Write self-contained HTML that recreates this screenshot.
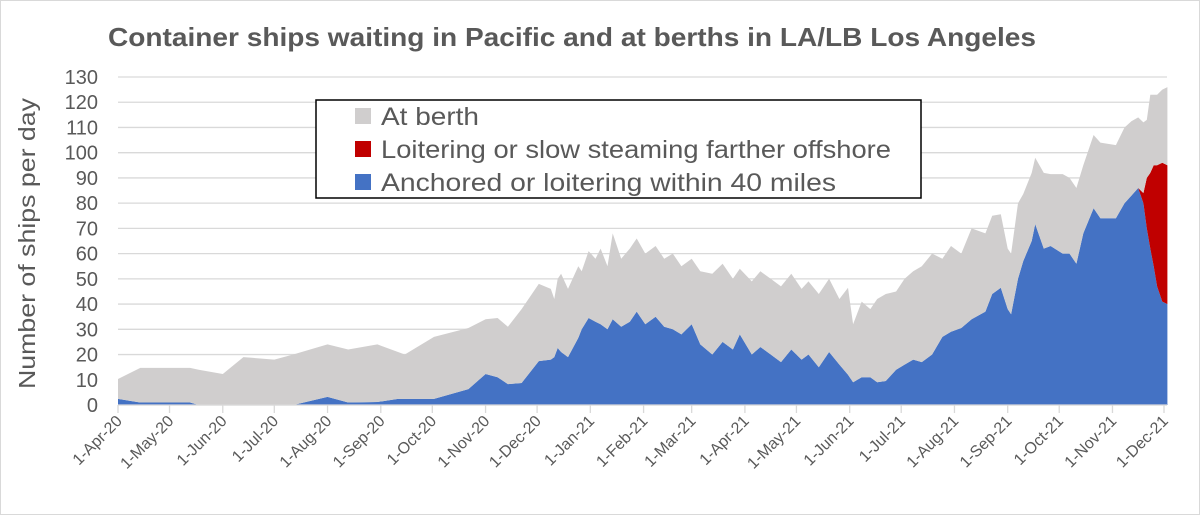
<!DOCTYPE html>
<html><head><meta charset="utf-8"><style>
body{margin:0;background:#fff;}
#wrap{position:relative;width:1200px;height:515px;overflow:hidden;background:#fff;box-sizing:border-box;border:1px solid #d9d9d9;}
text{font-family:"Liberation Sans",sans-serif;}
</style></head><body>
<div id="wrap">
<svg id="chart" width="1200" height="515"></svg>
</div>
<script>
const monthLabels=["1-Apr-20","1-May-20","1-Jun-20","1-Jul-20","1-Aug-20","1-Sep-20","1-Oct-20","1-Nov-20","1-Dec-20","1-Jan-21","1-Feb-21","1-Mar-21","1-Apr-21","1-May-21","1-Jun-21","1-Jul-21","1-Aug-21","1-Sep-21","1-Oct-21","1-Nov-21","1-Dec-21"];
const monthDays=[0,30,61,91,122,153,183,214,244,275,306,334,365,395,426,456,487,518,548,579,609];
const yTicks=[0,10,20,30,40,50,60,70,80,90,100,110,120,130];
const days=[0,13,42,47,61,73,91,102,122,134,151,163,167,184,204,214,221,227,235,245,252,254,256,258,262,268,270,274,278,281,285,288,293,298,302,307,313,318,323,328,334,339,346,352,358,362,369,374,380,386,392,398,402,408,414,420,425,428,433,438,442,447,453,458,463,468,474,480,485,491,497,505,509,514,518,520,524,527,532,534,539,543,550,554,558,562,568,572,581,586,590,594,597,599,601,603,605,608,611];
const totalWaiting=[10.3,14.7,14.7,14,12.3,19,18,20,24,22,24,21,20,27,30.5,34,34.5,31,38,48,46,42,50,52,46,55,53,61,58,62,55,68,58,62,66,60,63,58,60,55,58,53,52,56,50,54,49,53,50,47,52,46,49,44,50,42,46.5,32,41,38,42,44,45,50,53,55,60,58,63,60,70,68,75,75.6,62,60,80,83.6,92,98,92,91.5,91.5,90,86,95,107,104,103,110,112.5,114,112,113,123,123,123,125,126];
const anchored=[2.4,1,1,0,0,0,0,0,3.2,1,1.2,2.4,2.4,2.4,6.3,12.3,11,8.3,8.7,17.4,18,19,22.6,21,19,26.6,30,34.5,33,32,30,34,31,33,37,32,35,31,30,28,32,24,20,25,22,28,20,23,20,17,22,18,20,15,21,16,12,9,11,11,9,9.5,14,16,18,17,20,27,29,30.5,34,37,44,46.5,38,36,50,57,65,71.7,62,63,60,60,56,68,78,74,74,80,83,86,80,70,62,55,47,41,40];
const loitering=[0,0,0,0,0,0,0,0,0,0,0,0,0,0,0,0,0,0,0,0,0,0,0,0,0,0,0,0,0,0,0,0,0,0,0,0,0,0,0,0,0,0,0,0,0,0,0,0,0,0,0,0,0,0,0,0,0,0,0,0,0,0,0,0,0,0,0,0,0,0,0,0,0,0,0,0,0,0,0,0,0,0,0,0,0,0,0,0,0,0,0,0,4,20,30,40,48,55,55];

const NS="http://www.w3.org/2000/svg";
const svg=document.getElementById('chart');
const X0=117,X1=1163,Y0=404,Y130=76;
const xs=d=>X0+d*(X1-X0)/609;
const ys=v=>Y0-v*(Y0-Y130)/130;
function mk(tag,attrs,parent){const e=document.createElementNS(NS,tag);for(const k in attrs)e.setAttribute(k,attrs[k]);(parent||svg).appendChild(e);return e;}

const title=mk('text',{x:107,y:45,'font-size':'26','font-weight':'bold',fill:'#595959',textLength:928,lengthAdjust:'spacingAndGlyphs'});
title.textContent='Container ships waiting in Pacific and at berths in LA/LB Los Angeles';



yTicks.forEach(t=>{
  const g=mk('line',{x1:X0,x2:1166,y1:ys(t),y2:ys(t),stroke:'#d9d9d9','stroke-width':1.3});
  
  
  const l=mk('text',{x:97,y:ys(t)+7,'text-anchor':'end','font-size':'20',fill:'#595959'});
  l.textContent=t;
  
  
});
const yt=mk('text',{transform:'translate(34,388) rotate(-90)','font-size':'23',fill:'#595959',textLength:291,lengthAdjust:'spacingAndGlyphs'});
yt.textContent='Number of ships per day';



function areaPath(lower,upper){
  let p='';
  for(let i=0;i<days.length;i++)p+=(i?'L':'M')+xs(days[i]).toFixed(1)+','+ys(upper[i]).toFixed(1);
  for(let i=days.length-1;i>=0;i--)p+='L'+xs(days[i]).toFixed(1)+','+ys(lower[i]).toFixed(1);
  return p+'Z';
}
const zero=days.map(()=>0);
const atBerth=totalWaiting.map((t,i)=>Math.max(0,t-anchored[i]-loitering[i]));
const redTop=anchored.map((a,i)=>a+loitering[i]);
const greyTop=redTop.map((r,i)=>r+atBerth[i]);
const aB=mk('path',{d:areaPath(zero,anchored),fill:'#4472c4'});


const aR=mk('path',{d:areaPath(anchored,redTop),fill:'#c00000'});


const aG=mk('path',{d:areaPath(redTop,greyTop),fill:'#d0cece'});



const ax=mk('line',{x1:X0,x2:1166,y1:Y0,y2:Y0,stroke:'#d9d9d9','stroke-width':1.3});


monthDays.forEach((d,i)=>{
  const tk=mk('line',{x1:xs(d),x2:xs(d),y1:Y0,y2:Y0+8,stroke:'#d9d9d9','stroke-width':1.3});
  
  
  const l=mk('text',{transform:`translate(${xs(d)+5},${Y0+17}) rotate(-45)`,'text-anchor':'end','font-size':'16',fill:'#595959'});
  l.textContent=monthLabels[i];
  
  
});

const lg=mk('g',{});


mk('rect',{x:315,y:99,width:605,height:98,fill:'#fff',stroke:'#000','stroke-width':1.5},lg);
const entries=[['At berth','#d0cece',98],['Loitering or slow steaming farther offshore','#c00000',510],['Anchored or loitering within 40 miles','#4472c4',455]];
entries.forEach((e,i)=>{
  const y=115+i*33;
  const sw=mk('rect',{x:354,y:y-8,width:16,height:16,fill:e[1]},lg);
  
  
  const t=mk('text',{x:380,y:y+9,'font-size':'25',fill:'#595959',textLength:e[2],lengthAdjust:'spacingAndGlyphs'},lg);
  t.textContent=e[0];
  
  
});
</script>
</body></html>
